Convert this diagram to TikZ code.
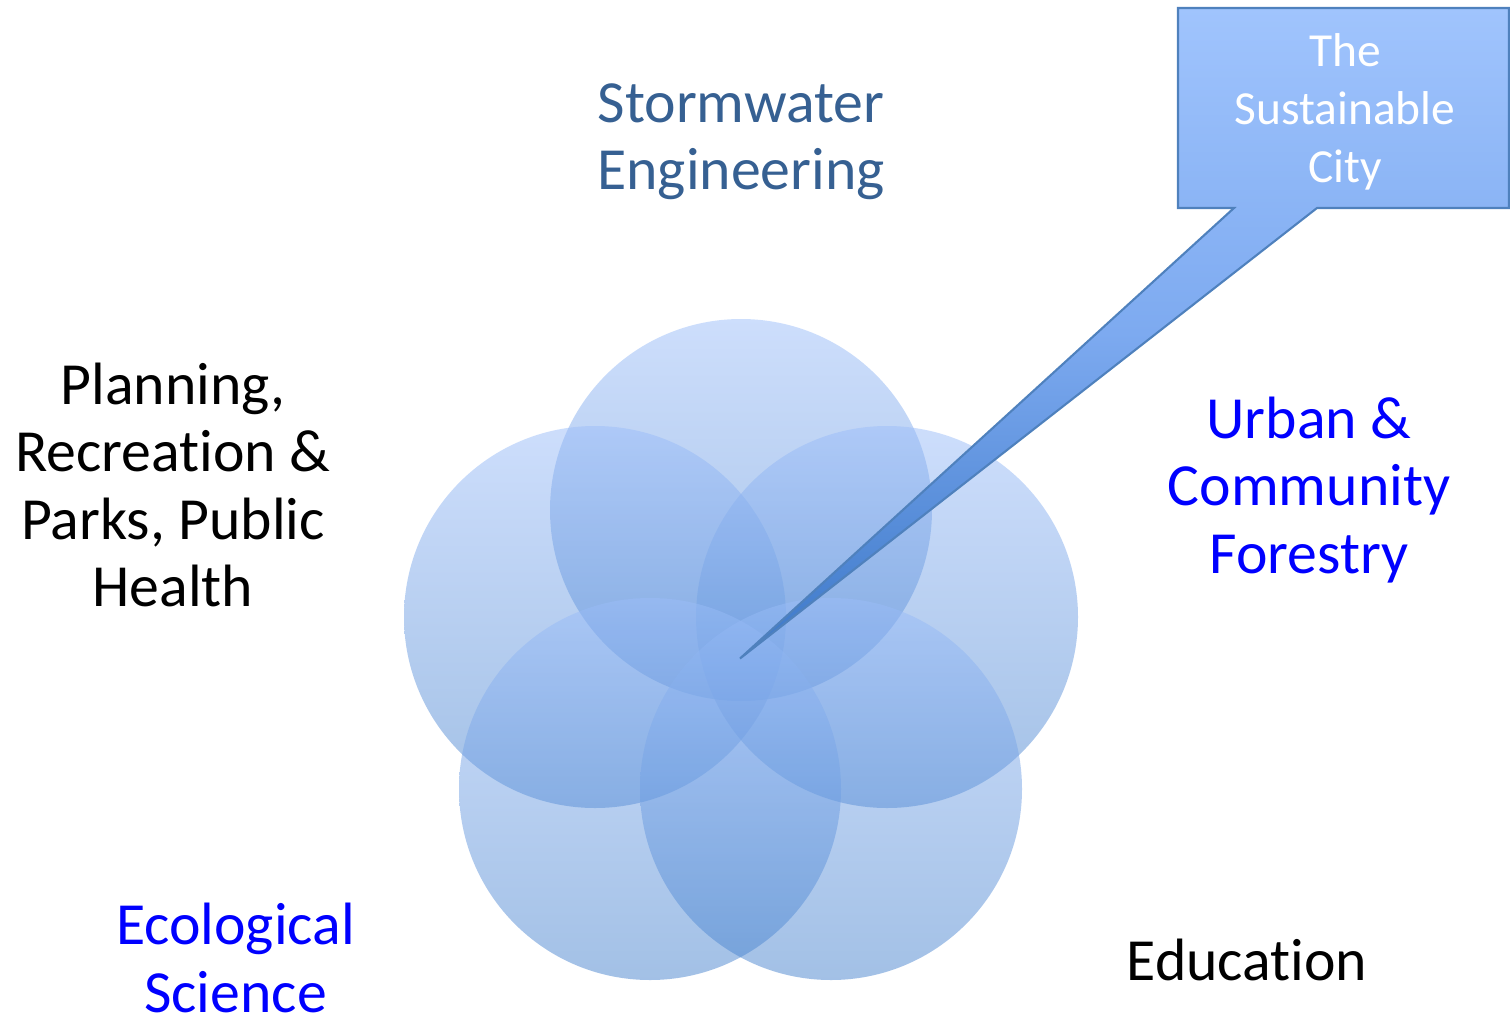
\documentclass[tikz,border=0pt]{standalone}
\usepackage{fontspec}
\setmainfont[Ligatures=NoCommon]{Carlito}
\usepackage{xcolor}
\usepackage{tikz}

\definecolor{petaltop}{RGB}{155,189,249}
\definecolor{petalbottom}{RGB}{70,130,205}
\definecolor{bubbletop}{RGB}{160,196,253}
\definecolor{bubblemid}{RGB}{125,170,240}
\definecolor{bubblebottom}{RGB}{60,120,200}
\definecolor{bubbleline}{RGB}{79,129,189}
\definecolor{stormblue}{RGB}{54,96,146}
\definecolor{topicblue}{RGB}{0,0,255}

\begin{document}
\begin{tikzpicture}[
  petal/.style={top color=petaltop, bottom color=petalbottom, fill opacity=0.5},
  topic/.style={inner sep=0pt, align=center, font=\fontsize{17}{19.2}\selectfont},
  bubble/.style={draw=bubbleline, line width=0.6pt, line join=miter, top color=bubbletop, bottom color=bubblebottom, middle color=bubblemid},
  bubbleshadow/.style={fill=black, fill opacity=0.18}
]
\useasboundingbox (0,0) rectangle (15.10,-10.19);

% Five overlapping circles
\shade[petal] (7.41,-5.10) circle (1.91);
\shade[petal] (5.95,-6.17) circle (1.91);
\shade[petal] (8.87,-6.17) circle (1.91);
\shade[petal] (6.50,-7.89) circle (1.91);
\shade[petal] (8.31,-7.89) circle (1.91);

% Topic labels around the circles
\node[topic, text=stormblue] (stormwater) at (7.41,-1.415) {Stormwater\\Engineering};
\node[topic] (planning) at (1.73,-4.85) {Planning,\\Recreation \&\\Parks, Public\\Health};
\node[topic, text=topicblue] (urban) at (13.09,-4.90) {Urban \&\\Community\\Forestry};
\node[topic, text=topicblue] (ecology) at (2.355,-9.58) {Ecological\\Science};
\node[topic] (education) at (12.47,-9.60) {Education};

% Callout box pointing into the middle
\coordinate (tip) at (7.40,-6.585);
\coordinate (boxnw) at (11.78,-0.08);
\coordinate (boxne) at (15.09,-0.08);
\coordinate (boxse) at (15.09,-2.08);
\coordinate (boxsw) at (11.78,-2.08);
\coordinate (legl) at (12.34,-2.08);
\coordinate (legr) at (13.17,-2.08);

\fill[bubbleshadow, shift={(-0.01,-0.05)}] (boxnw) -- (boxne) -- (boxse) -- (legr) -- (tip) -- (legl) -- (boxsw) -- cycle;
\fill[bubbleshadow, fill opacity=0.1, shift={(-0.015,-0.09)}] (boxnw) -- (boxne) -- (boxse) -- (legr) -- (tip) -- (legl) -- (boxsw) -- cycle;
\path[bubble] (boxnw) -- (boxne) -- (boxse) -- (legr) -- (tip) -- (legl) -- (boxsw) -- cycle;

\node[inner sep=0pt, align=center, text=white, font=\fontsize{13.5}{16.6}\selectfont] (city) at (13.45,-1.12) {The\\Sustainable\\City};

\end{tikzpicture}
\end{document}
